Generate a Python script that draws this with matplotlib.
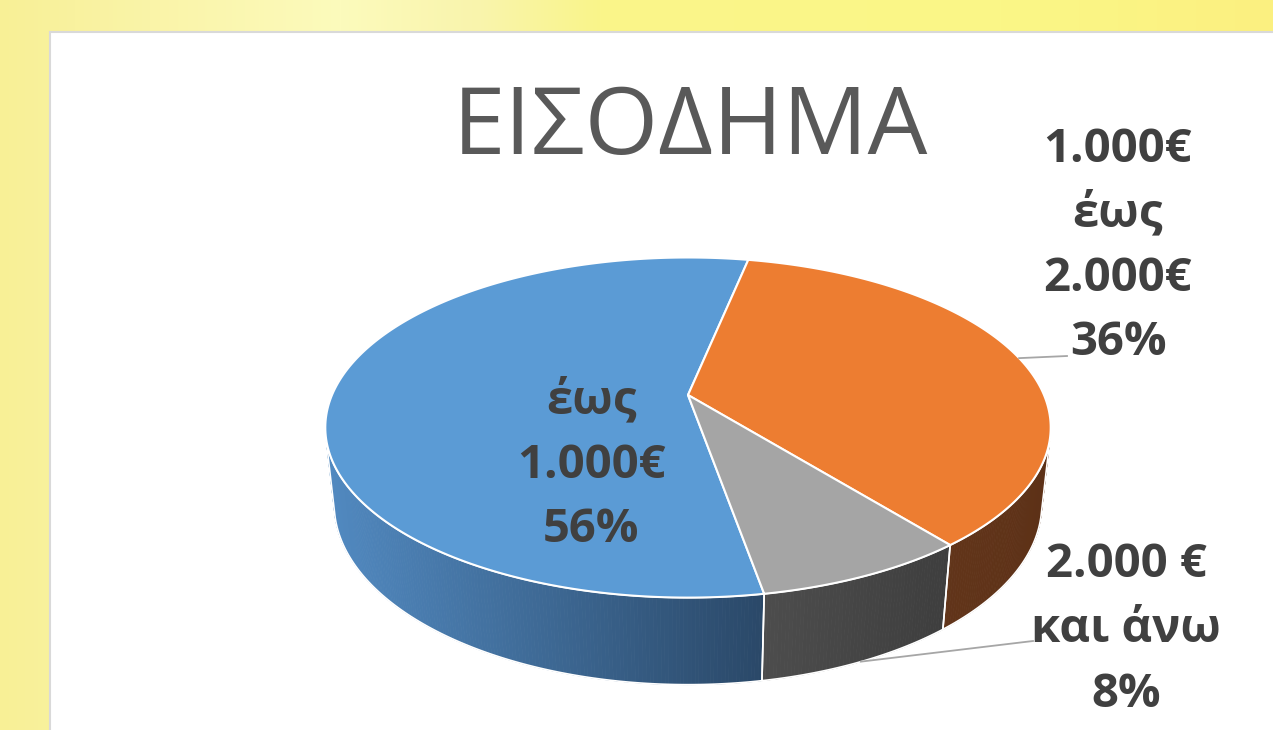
import numpy as np
import matplotlib
matplotlib.use('Agg')
import matplotlib.pyplot as plt
from matplotlib.patches import Polygon, Rectangle
from matplotlib.colors import to_rgb

# data
title = 'ΕΙΣΟΔΗΜΑ'
categories = [['έως', '1.000€'], ['1.000€', 'έως', '2.000€'], ['2.000 €', 'και άνω']]
values = [56, 36, 8]
top_colors = ['#5B9BD5', '#ED7D31', '#A5A5A5']
wall_colors = [('#5189C0', '#2A4868'), ('#62351A', '#5D3117'), ('#4D4D4D', '#3E3E3E')]

# where the labels go (pixels) : x centre, first baseline, line step
label_pos = [(591, 413, 64.5), (1118, 162, 64.3), (1126, 577, 65)]
leader_end = [None, (1067, 356), (1033, 641)]

# 3d pie geometry (pixels)
cx, cy = 688, 395
S = 356
elev = np.radians(27.4)
D = 4.64
h = 0.245
first_angle = 170.0
se, ce = np.sin(elev), np.cos(elev)


def proj(th, z):
    # th in degrees clockwise from 12 o'clock, radius 1
    t = np.radians(th)
    x, y = np.sin(t), np.cos(t)
    v = y*se + z*ce
    w = -y*ce + z*se
    f = D/(D - w)
    return cx + S*x*f, cy - S*v*f


fig = plt.figure(figsize=(12.73, 7.30), dpi=100)
ax = fig.add_axes([0, 0, 1, 1])
ax.set_xlim(0, 1273)
ax.set_ylim(730, 0)
ax.axis('off')

# yellow backdrop
xs = np.arange(1273)
stops_x = [0, 150, 340, 480, 600, 1000, 1273]
stops_c = np.array([(248, 240, 150), (250, 244, 168), (252, 251, 188), (249, 244, 172),
                    (250, 245, 138), (250, 247, 135), (252, 240, 128)])/255.
grad = np.stack([np.interp(xs, stops_x, stops_c[:, k]) for k in range(3)], axis=-1)
ax.imshow(grad[None, :, :], extent=[0, 1273, 730, 0], aspect='auto', zorder=0)
ax.add_patch(Rectangle((50, 32), 1240, 720, facecolor='white', edgecolor='#D9D9D9', lw=1.5, zorder=1))

total = float(sum(values))
starts = first_angle + 360*np.concatenate([[0], np.cumsum(values)[:-1]])/total
ends = starts + 360*np.array(values)/total

# visible part of the side wall
k = 1.0/(D*ce)
vis_lo = np.degrees(np.arccos(-k))
vis_hi = 360 - vis_lo

for i in range(len(values)):
    for shift in (-360, 0, 360):
        lo = max(starts[i] + shift, vis_lo)
        hi = min(ends[i] + shift, vis_hi)
        if hi <= lo:
            continue
        n = max(int((hi - lo)*2), 2)
        ths = np.linspace(lo, hi, n + 1)
        tx, ty = proj(ths, 0)
        bx, by = proj(ths, -h)
        xmin, xmax = min(tx.min(), bx.min()), max(tx.max(), bx.max())
        cl, cr = np.array(to_rgb(wall_colors[i][0])), np.array(to_rgb(wall_colors[i][1]))
        for j in range(n):
            pts = [(tx[j], ty[j]), (tx[j+1], ty[j+1]), (bx[j+1], by[j+1]), (bx[j], by[j])]
            t = ((tx[j] + tx[j+1])/2 - xmin)/(xmax - xmin)
            c = cl*(1 - t) + cr*t
            ax.add_patch(Polygon(pts, closed=True, facecolor=c, edgecolor=c, lw=0.6, zorder=2))
        outline = list(zip(tx, ty)) + list(zip(bx[::-1], by[::-1]))
        ax.add_patch(Polygon(outline, closed=True, fill=False, edgecolor='white', lw=1.2, zorder=3))

for i in range(len(values)):
    ths = np.linspace(starts[i], ends[i], 200)
    rx, ry = proj(ths, 0)
    pts = [(cx, cy)] + list(zip(rx, ry))
    ax.add_patch(Polygon(pts, closed=True, facecolor=top_colors[i], edgecolor='white',
                         lw=1.5, joinstyle='round', zorder=4))

# leader lines
for i in range(len(values)):
    if leader_end[i] is None:
        continue
    mid = (starts[i] + ends[i])/2
    z = 0 if i == 1 else -h
    px, py = proj(mid, z)
    ax.plot([px, leader_end[i][0]], [py, leader_end[i][1]], color='#A6A6A6', lw=1.3, zorder=5)

fam = ['Open Sans', 'DejaVu Sans']
for i in range(len(values)):
    lines = categories[i] + ['%d%%' % values[i]]
    x0, y0, step = label_pos[i]
    for j, s in enumerate(lines):
        ax.text(x0, y0 + j*step, s, ha='center', va='baseline', fontsize=34,
                fontweight='bold', color='#404040', family=fam, zorder=6)

ax.text(690, 154, title, ha='center', va='baseline', fontsize=68, color='#595959',
        family=fam, zorder=6)

fig.savefig('out.png', dpi=100)
